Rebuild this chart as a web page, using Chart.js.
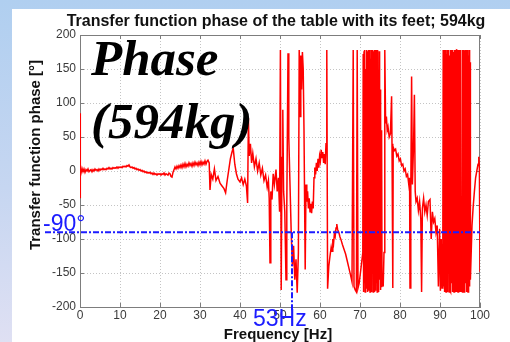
<!DOCTYPE html>
<html>
<head>
<meta charset="utf-8">
<script src="https://cdn.jsdelivr.net/npm/chart.js@4.4.0/dist/chart.umd.min.js"></script>
<style>
  html, body { margin: 0; padding: 0; }
  body { width: 510px; height: 342px; overflow: hidden; position: relative;
    background: linear-gradient(180deg, #b0cff0 0%, #c6d6f1 55%, #dfe0f3 100%); }
  #panel { position: absolute; left: 12px; top: 9px; right: 0; bottom: 0; background: #fff; }
  #c { position: absolute; left: 0; top: 0; }
</style>
</head>
<body>
<div id="panel"></div>
<canvas id="c" width="510" height="342"></canvas>
<script>
// labels
const chartTitle = 'Transfer function phase of the table with its feet; 594kg';
const xTitle = 'Frequency [Hz]';
const yTitle = 'Transfer function phase [°]';
const bigText = ['Phase', '(594kg)'];

// guide lines drawn in blue
const guideFreq = 53;
const guidePhase = -90;
const guideFreqLabel = '53Hz';
const guidePhaseLabel = '-90°';

const freqHz = [
  0, 0.05, 0.1,
  0.25, 0.5, 0.75, 1, 1.25, 1.5, 1.75, 2,
  2.25, 2.5, 2.75, 3, 3.25, 3.5, 3.75, 4,
  4.25, 4.5, 4.75, 5, 5.25, 5.5, 5.75, 6,
  6.25, 6.5, 6.75, 7, 7.25, 7.5, 7.75, 8,
  8.25, 8.5, 8.75, 9, 9.25, 9.5, 9.75, 10,
  10.25, 10.5, 10.75, 11, 11.25, 11.5, 11.75, 12,
  12.25, 12.5, 12.75, 13, 13.25, 13.5, 13.75, 14,
  14.25, 14.5, 14.75, 15, 15.25, 15.5, 15.75, 16,
  16.25, 16.5, 16.75, 17, 17.25, 17.5, 17.75, 18,
  18.25, 18.5, 18.75, 19, 19.25, 19.5, 19.75, 20,
  20.25, 20.5, 20.75, 21, 21.25, 21.5, 21.75, 22,
  22.25, 22.5, 22.75, 23, 23.25, 23.5, 23.75, 24,
  24.25, 24.5, 24.75, 25, 25.25, 25.5, 25.75, 26,
  26.25, 26.5, 26.75, 27, 27.25, 27.5, 27.75, 28,
  28.25, 28.5, 28.75, 29, 29.25, 29.5, 29.75, 30,
  30.25, 30.5, 30.75, 31, 31.25, 31.5, 31.75, 32,
  32.3, 32.5, 32.8, 33.2, 33.6, 34, 34.5, 35, 35.5, 36,
  36.4, 36.8, 37.2, 37.6, 38, 38.3, 38.7, 39.1, 39.5, 40,
  40.4, 40.8, 41.2, 41.6, 41.9, 42.1, 42.3, 42.6, 42.9, 43.2,
  43.6, 44, 44.4, 44.8, 45.2, 45.6, 46, 46.4, 46.8, 47.1,
  47.3, 47.5, 47.7, 48, 48.3, 48.6, 49, 49.3, 49.6, 49.9,
  50.1, 50.3, 50.5, 50.7, 50.9, 51.2, 51.5, 51.7, 52, 52.2,
  52.5, 52.8, 53.1, 53.4, 53.7, 54, 54.3, 54.6, 54.8, 55,
  55.2, 55.4, 55.6, 55.8, 56, 56.3,
  56.5, 56.7, 56.9, 57.1, 57.3, 57.5, 57.7, 57.9, 58.1, 58.3,
  58.5, 58.7, 58.9, 59.1, 59.3, 59.5, 59.7, 59.9, 60.1, 60.3,
  60.5, 60.7, 60.9, 61.1, 61.3, 61.5, 61.7, 61.9,
  62.2, 62.5, 62.8, 63.0, 63.2, 63.4, 63.6, 63.8, 64, 64.2,
  64.4, 64.7, 65.0, 65.3, 65.6, 66.0, 66.4, 66.8, 67.2, 67.6, 68,
  68.3, 68.5, 68.8, 69.1, 69.3, 69.5, 69.8, 70.1, 70.4, 70.7,
  70.8, 70.9, 71.0, 71.1, 71.2, 71.3, 71.4, 71.5, 71.6, 71.7,
  71.8, 71.9, 72.0, 72.1, 72.2, 72.3, 72.4, 72.5, 72.6, 72.7,
  72.8, 72.9, 73.0, 73.1, 73.2, 73.3, 73.4, 73.5, 73.6, 73.7,
  73.8, 73.9, 74.0, 74.1, 74.2, 74.3, 74.4, 74.5, 74.6, 74.7,
  74.8, 74.9, 75.0, 75.1, 75.2, 75.3, 75.4, 75.5,
  75.8, 76.0, 76.2, 76.4, 76.6, 76.8, 77.0, 77.3, 77.6, 77.9,
  78.0, 78.2, 78.3, 78.6, 78.9, 79.2, 79.5, 79.8, 80.1, 80.4,
  80.7, 81.0, 81.3, 81.6, 81.9, 82.2, 82.4, 82.5, 82.7, 82.9,
  83.1, 83.4, 83.6, 83.8,
  84, 84.3, 84.6, 84.9, 85.2, 85.4, 85.6, 85.9, 86.2, 86.5,
  86.8, 87.1, 87.5, 87.8, 88.1, 88.4, 88.7, 89, 89.3, 89.6,
  89.9, 90.1, 90.3, 90.5, 90.7,
  90.8, 90.9, 91.0, 91.1, 91.2, 91.3, 91.4, 91.5, 91.6, 91.7,
  91.8, 91.9, 92.0, 92.1, 92.2, 92.3, 92.4, 92.5, 92.6, 92.7,
  92.8, 92.9, 93.0, 93.1, 93.2, 93.3, 93.4, 93.5, 93.6, 93.7,
  93.8, 93.9, 94.0, 94.1, 94.2, 94.45, 94.5, 94.6, 94.7, 94.8,
  94.9, 95.0, 95.1, 95.2, 95.35, 95.6, 95.65, 95.8, 95.9, 96.0,
  96.1, 96.2, 96.3, 96.4, 96.5, 96.6, 96.7, 96.8, 96.9, 97.0,
  97.1, 97.2, 97.3, 97.4, 97.5,
  97.6, 97.8, 98.0, 98.3, 98.6, 98.9, 99.2, 99.5, 99.7, 99.85,
  100
];
const phaseDeg = [
  85, -40, 2,
  -3, 4, -1, 3, -2, 2, 0, 3,
  -1, 1, 2, -1, 2, 0, 3, 1,
  2, 0, 3, 1, 3, 2, 4, 2,
  3, 2, 4, 3, 5, 3, 4, 3,
  5, 4, 5, 4, 6, 4, 6, 5,
  6, 5, 7, 6, 7, 6, 8, 7,
  9, 6, 5, 6, 4, 5, 3, 4,
  2, 3, 1, 2, 0, 1, -1, 0,
  -2, -1, -3, -2, -3, -2, -4, -3,
  -5, -3, -5, -4, -6, -4, -5, -4,
  -6, -4, -5, -3, -6, -4, -5, -6,
  -3, -4, -8, -9, -2, 2, 6, 3,
  7, 4, 8, 5, 9, 5, 10, 6,
  11, 6, 10, 7, 12, 8, 11, 7,
  12, 8, 13, 9, 12, 8, 13, 9,
  14, 9, 13, 10, 15, 10, 14, 16,
  12, -28, -5, -12, 3, -14, -8, -18, -22, -26,
  -32, -14, 2, 18, 28, 34, 10, -4, -12, -16,
  -10, -20, -12, -22, -47, 78, 22, 40, 12, 26,
  6, 18, 0, 12, -6, 4, -14, -6, -24, -14,
  -40, -135, -30, -42, -4, -20, 2, -30, -10, -60,
  178, -175, 20, 90, -30, -60, -160, -50, 173, 50,
  -20, -90, -140, -110, -160, -130, -179, -120, 178, 80,
  170, 120, 175, 150, 60, -145,
  -20, -45, -30, -55, -40, -60, -48, -62, -45, -55,
  -10, 5, -5, 12, 0, 18, 5, 22, 15, 31,
  20, 28, 12, 25, 10, 40, 178, -173,
  -140, -125, -112, -118, -100, -106, -92, -96, -84, -78,
  -86, -90, -97, -102, -108, -115, -122, -132, -142, -152, -163,
  178, -170, -175, -178, 178, -172, -165, -150, -135, -120,
  172, -178, 176, -165, 178, -178, 150, -172, 178, -150,
  176, -178, 170, -176, 178, -160, 178, -178, 165, -175,
  178, -178, 172, -140, 178, -178, 176, -170, 178, -178,
  160, -176, 178, -165, 174, -178, 178, -172, 140, -178,
  176, -160, 120, -175, 90, -170, 60, -150,
  -170, -120, 178, 70, 80, 60, 65, 50, 55, 110,
  40, -172, 35, 30, 32, 22, 25, 15, 18, 8,
  10, 0, 3, -8, -5, -20, -10, -172, -30, 139,
  -20, 40, 112, -30,
  -45, -40, -58, -45, -70, -178, -55, -40, -60, -50,
  -65, -45, -42, -100, -60, -75, -70, -90, -80, -170,
  -85, -176, -100, -172, -120,
  178, -170, 176, -178, 178, -160, 178, -178, 172, -175,
  178, -178, 176, -150, 178, -178, 170, -176, 178, -178,
  178, -165, 176, -178, 178, -172, 175, -178, 178, -170,
  178, -178, 176, -178, 178, 177, -178, 178, -175, 178,
  -178, 174, -178, 178, -176, -178, 178, -170, 178, -178,
  176, -178, 178, -165, 178, -178, 172, -176, 178, -178,
  170, -175, 178, -170, 160,
  -160, -120, -80, -52, -30, -10, 0, 10, 21, 5,
  -148
];

const xTicks = { min: 0, max: 100, step: 10 };
const yTicks = { min: -200, max: 200, step: 50 };

const sans = '"Liberation Sans", Arial, sans-serif';
const serif = '"Liberation Serif", "Times New Roman", serif';

const overlay = {
  id: 'overlay',
  beforeDatasetsDraw(chart) {
    const { ctx, chartArea: a, scales: { x, y } } = chart;
    ctx.save();
    ctx.strokeStyle = '#7d7d7d';
    ctx.lineWidth = 1;
    ctx.beginPath();
    ctx.moveTo(a.left, a.top + 0.5); ctx.lineTo(a.right, a.top + 0.5);
    ctx.moveTo(a.right - 0.5, a.top); ctx.lineTo(a.right - 0.5, a.bottom);
    // inward tick marks on all four sides
    x.ticks.forEach(t => {
      const px = Math.round(x.getPixelForValue(t.value)) + 0.5;
      ctx.moveTo(px, a.bottom); ctx.lineTo(px, a.bottom - 4);
      ctx.moveTo(px, a.top); ctx.lineTo(px, a.top + 4);
    });
    y.ticks.forEach(t => {
      const py = Math.round(y.getPixelForValue(t.value)) + 0.5;
      ctx.moveTo(a.left, py); ctx.lineTo(a.left + 4, py);
      ctx.moveTo(a.right, py); ctx.lineTo(a.right - 4, py);
    });
    ctx.stroke();
    ctx.restore();
  },
  afterDraw(chart) {
    const { ctx, chartArea: a, scales: { x, y } } = chart;
    ctx.save();

    // titles
    ctx.fillStyle = '#111';
    ctx.textAlign = 'center';
    ctx.textBaseline = 'alphabetic';
    ctx.font = 'bold 16px ' + sans;
    ctx.fillText(chartTitle, 276, 26);
    ctx.font = 'bold 15px ' + sans;
    ctx.fillText(xTitle, 278, 339);
    ctx.save();
    ctx.translate(40, 155);
    ctx.rotate(-Math.PI / 2);
    ctx.fillText(yTitle, 0, 0);
    ctx.restore();

    // blue guides
    const yg = y.getPixelForValue(guidePhase);
    const xg = x.getPixelForValue(guideFreq);
    ctx.strokeStyle = '#1c1cff';
    ctx.lineWidth = 2;
    ctx.setLineDash([6, 2, 2, 2]);
    ctx.beginPath();
    ctx.moveTo(45, yg); ctx.lineTo(a.right, yg);
    ctx.stroke();
    ctx.beginPath();
    ctx.moveTo(xg, yg); ctx.lineTo(xg, 311);
    ctx.stroke();
    ctx.setLineDash([]);

    ctx.fillStyle = '#1c1cff';
    ctx.textAlign = 'left';
    ctx.font = '23px ' + sans;
    ctx.fillText(guidePhaseLabel, 43, 231);
    ctx.fillText(guideFreqLabel, 253, 326);

    // big annotation
    ctx.fillStyle = '#000';
    ctx.font = 'italic bold 51px ' + serif;
    ctx.fillText(bigText[0], 91, 75);
    ctx.fillText(bigText[1], 91, 138);
    ctx.restore();
  }
};

const tickFont = { family: 'Liberation Sans', size: 12 };

new Chart(document.getElementById('c'), {
  type: 'scatter',
  data: {
    datasets: [{
      data: freqHz.map((f, i) => ({ x: f, y: phaseDeg[i] })),
      showLine: true,
      borderColor: '#ff0000',
      borderWidth: 1.5,
      pointRadius: 0,
      tension: 0
    }]
  },
  options: {
    responsive: false,
    animation: false,
    devicePixelRatio: 1,
    layout: { padding: { top: 35, right: 30, left: 0, bottom: 0 } },
    plugins: { legend: { display: false }, tooltip: { enabled: false } },
    scales: {
      x: {
        type: 'linear', min: xTicks.min, max: xTicks.max,
        ticks: { stepSize: xTicks.step, font: tickFont, color: '#3a3a3a', padding: 1, maxRotation: 0 },
        grid: { color: '#c4c4c4', drawTicks: false },
        border: { color: '#7d7d7d', dash: [1, 2] },
        afterFit(s) { s.height = 35; }
      },
      y: {
        type: 'linear', min: yTicks.min, max: yTicks.max,
        ticks: { stepSize: yTicks.step, font: tickFont, color: '#3a3a3a', padding: 4 },
        grid: { color: '#c4c4c4', drawTicks: false },
        border: { color: '#7d7d7d', dash: [1, 2] },
        afterFit(s) { s.width = 80; }
      }
    }
  },
  plugins: [overlay]
});
</script>
</body>
</html>
